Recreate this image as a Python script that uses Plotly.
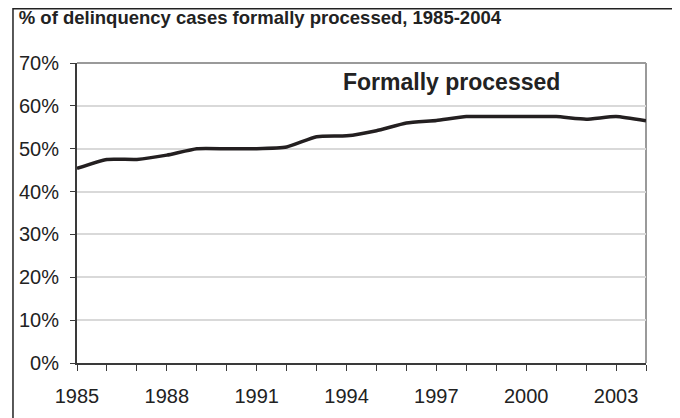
import plotly.graph_objects as go

# share of delinquency cases handled formally, by year
years = list(range(1985, 2005))
formal_pct = [45.4, 47.5, 47.5, 48.5, 50.0, 50.0, 50.0, 50.4, 52.8, 53.0,
              54.2, 56.0, 56.6, 57.5, 57.5, 57.5, 57.5, 56.9, 57.5, 56.5]

y_ticks = [0, 10, 20, 30, 40, 50, 60, 70]
y_labels = [f"{v}%" for v in y_ticks]
x_ticks = [1985, 1988, 1991, 1994, 1997, 2000, 2003]

FONT = "Liberation Sans, Arial, sans-serif"
AXIS_DARK = "#3a3a3a"
NO_FILL = "rgba(0,0,0,0)"

fig = go.Figure(go.Scatter(
    x=years, y=formal_pct, mode="lines",
    line=dict(color="#231f20", width=3.5, shape="spline", smoothing=0.5),
    hoverinfo="x+y", showlegend=False))

# page body has an 8px margin, so the figure is 8px smaller each way
fig.update_layout(
    width=672, height=410, template="simple_white",
    paper_bgcolor="white", plot_bgcolor="white",
    margin=dict(l=69, r=34, t=55, b=55),
    font=dict(family=FONT, size=20, color="#222"),
    title=dict(text="<b>% of delinquency cases formally processed, 1985-2004</b>",
               x=0.016, xanchor="left", y=0.976, yanchor="middle",
               font=dict(family=FONT, size=18.5, color="#222")),
)

fig.update_xaxes(
    range=[1985, 2004], tickvals=x_ticks, ticks="outside", ticklen=6,
    tickcolor=AXIS_DARK, showline=True, linecolor=AXIS_DARK, linewidth=2,
    showgrid=False, ticklabelstandoff=8,
    minor=dict(dtick=1, tick0=1985, ticks="outside", ticklen=6, tickcolor=AXIS_DARK,
               showgrid=False),
    tickfont=dict(size=20, color="#222"))

fig.update_yaxes(
    range=[0, 70], tickvals=y_ticks, ticktext=y_labels, ticks="outside", ticklen=5,
    tickcolor=AXIS_DARK, showline=True, linecolor=AXIS_DARK, linewidth=2,
    showgrid=True, gridcolor="#d9d9d9", gridwidth=1.5, zeroline=False,
    ticklabelstandoff=7, tickfont=dict(size=20, color="#222"))

# gray top/right edges of the plot area
for x0, x1, y0, y1 in [(0, 1, 1, 1), (1, 1, 0, 1)]:
    fig.add_shape(type="line", xref="paper", yref="paper", x0=x0, x1=x1, y0=y0, y1=y1,
                  line=dict(color="#9a9a9a", width=2), opacity=1, layer="below")

# outer frame around the whole chart
fig.add_shape(type="rect", xref="paper", yref="paper",
              x0=-0.1125, x1=1.0475, y0=-0.2, y1=1.181,
              line=dict(color="#222", width=1.5), fillcolor=NO_FILL, opacity=1,
              layer="below")

fig.add_annotation(text="<b>Formally processed</b>", xref="x", yref="y",
                   x=1997.5, y=65.5, showarrow=False,
                   font=dict(family=FONT, size=23, color="#222"))

fig.write_html("out.html", config={"displayModeBar": False})
